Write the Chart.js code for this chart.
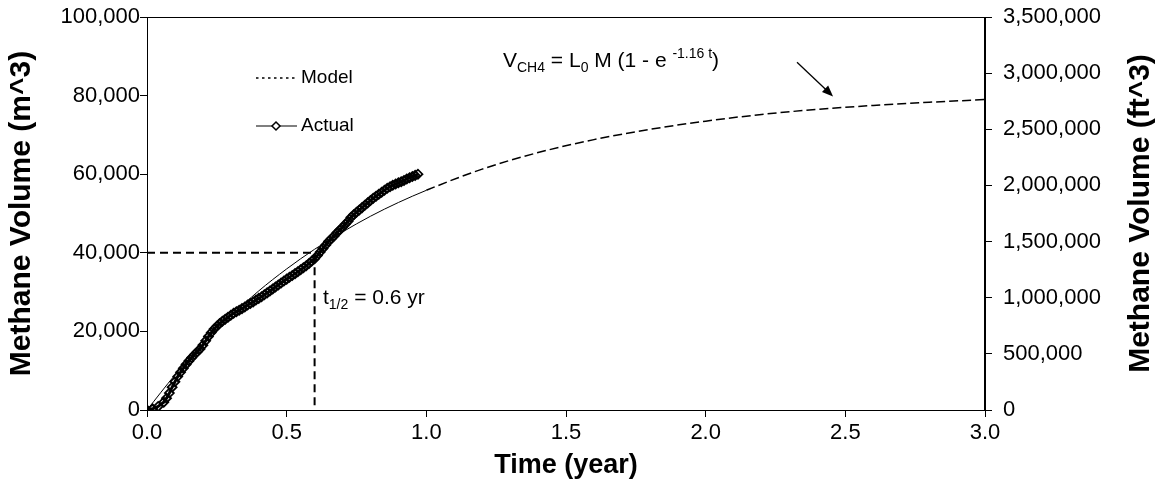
<!DOCTYPE html>
<html>
<head>
<meta charset="utf-8">
<script src="https://cdn.jsdelivr.net/npm/chart.js@4.4.1/dist/chart.umd.min.js"></script>
<style>
  body { margin: 0; background: #fff; }
  #wrap { width: 1161px; height: 495px; }
</style>
</head>
<body>
<div id="wrap"><canvas id="methane-chart" width="1161" height="495"></canvas></div>
<script>
// measured data (time in years, volume in m^3)
const actualTime = [0.00, 0.02, 0.04, 0.06, 0.07, 0.08, 0.09, 0.10, 0.11, 0.12, 0.13, 0.14, 0.15, 0.16, 0.17, 0.18, 0.19,
    0.20, 0.21, 0.22, 0.23, 0.24, 0.25, 0.26, 0.27, 0.28, 0.29, 0.30, 0.31, 0.32, 0.33, 0.34, 0.35, 0.36, 0.37, 0.38, 0.39,
    0.40, 0.41, 0.42, 0.43, 0.44, 0.45, 0.46, 0.47, 0.48, 0.49, 0.50, 0.51, 0.52, 0.53, 0.54, 0.55, 0.56, 0.57, 0.58, 0.59,
    0.60, 0.61, 0.62, 0.63, 0.64, 0.65, 0.66, 0.67, 0.68, 0.69, 0.70, 0.71, 0.72, 0.73, 0.74, 0.75, 0.76, 0.77, 0.78, 0.79,
    0.80, 0.81, 0.82, 0.83, 0.84, 0.85, 0.86, 0.87, 0.88, 0.89, 0.90, 0.91, 0.92, 0.93, 0.94, 0.95, 0.96, 0.97]
const actualVolume = [0, 300, 900, 2000, 3000, 4300, 5800, 7200, 8500, 9600, 10600, 11600, 12500, 13300, 14100, 14800, 15500,
    16500, 17600, 18700, 19700, 20600, 21300, 22000, 22600, 23100, 23600, 24100, 24600, 25000, 25400, 25800, 26200, 26700, 27100, 27500, 28000,
    28400, 28800, 29300, 29800, 30300, 30800, 31300, 31800, 32300, 32800, 33300, 33800, 34200, 34700, 35200, 35700, 36200, 36700, 37300, 37900,
    38500, 39300, 40200, 41100, 42000, 42900, 43600, 44300, 45100, 45800, 46500, 47300, 48000, 49000, 49700, 50300, 50900, 51500, 52100, 52700,
    53300, 53900, 54400, 54900, 55400, 55900, 56400, 56800, 57200, 57500, 57800, 58100, 58400, 58800, 59100, 59400, 59700, 60000]

// model curve
const modelTime = [0, 0.1, 0.2, 0.3, 0.4, 0.5, 0.6, 0.7, 0.8, 0.9, 1.0, 1.2, 1.4, 1.6, 1.8, 2.0, 2.2, 2.4, 2.6, 2.8, 3.0]
const modelVolume = [0, 8900, 16900, 23900, 30300, 35900, 40900, 45300, 49300, 52800, 55900, 61300, 65500, 68800, 71400, 73500, 75200, 76500, 77500, 78300, 79000]

// half-life guide
const halfTime = [0, 0.6, 0.6]
const halfVolume = [40000, 40000, 0]

const FONT = '"Liberation Sans", Arial, sans-serif'

function toPoints(xs, ys) {
    return xs.map((x, i) => ({ x: x, y: ys[i] }))
}

// text with sub/superscripts: parts = [[text, 'n'|'sub'|'sup'], ...]
function drawRichText(ctx, parts, x, y, size) {
    parts.forEach(part => {
        const small = part[1] !== 'n'
        ctx.font = (small ? Math.round(size * 0.65) : size) + 'px ' + FONT
        let dy = 0
        if (part[1] === 'sub') dy = size * 0.25
        if (part[1] === 'sup') dy = -size * 0.45
        ctx.fillText(part[0], x, y + dy)
        x += ctx.measureText(part[0]).width
    })
}

const extras = {
    id: 'extras',
    afterDraw(chart) {
        const ctx = chart.ctx
        const area = chart.chartArea
        const xs = chart.scales.x
        const ys = chart.scales.y
        ctx.save()

        // plot frame
        ctx.strokeStyle = '#000'
        ctx.lineWidth = 1
        ctx.strokeRect(area.left + 0.5, area.top + 0.5, area.right - area.left - 1, area.bottom - area.top)

        ctx.fillStyle = '#000'
        ctx.textBaseline = 'alphabetic'
        ctx.textAlign = 'left'

        // equation
        drawRichText(ctx, [['V', 'n'], ['CH4', 'sub'], [' = L', 'n'], ['0', 'sub'], [' M (1 - e ', 'n'], ['-1.16 t', 'sup'], [')', 'n']],
            area.left + 356, area.top + 50, 21)

        // half-life label
        drawRichText(ctx, [['t', 'n'], ['1/2', 'sub'], [' = 0.6 yr', 'n']], area.left + 176, area.top + 287, 21)

        // arrow to the model curve
        const x0 = xs.getPixelForValue(2.327), y0 = ys.getPixelForValue(88500)
        const x1 = xs.getPixelForValue(2.456), y1 = ys.getPixelForValue(79800)
        const ang = Math.atan2(y1 - y0, x1 - x0)
        ctx.beginPath()
        ctx.moveTo(x0, y0)
        ctx.lineTo(x1 - 6 * Math.cos(ang), y1 - 6 * Math.sin(ang))
        ctx.lineWidth = 1.3
        ctx.stroke()
        ctx.beginPath()
        ctx.moveTo(x1, y1)
        ctx.lineTo(x1 - 11 * Math.cos(ang) + 4.5 * Math.sin(ang), y1 - 11 * Math.sin(ang) - 4.5 * Math.cos(ang))
        ctx.lineTo(x1 - 11 * Math.cos(ang) - 4.5 * Math.sin(ang), y1 - 11 * Math.sin(ang) + 4.5 * Math.cos(ang))
        ctx.closePath()
        ctx.fill()

        // legend
        const lx = area.left + 109
        ctx.lineWidth = 1.5
        ctx.setLineDash([2.5, 3.5])
        ctx.beginPath()
        ctx.moveTo(lx, area.top + 61)
        ctx.lineTo(lx + 41, area.top + 61)
        ctx.stroke()
        ctx.setLineDash([])
        ctx.lineWidth = 1.2
        ctx.beginPath()
        ctx.moveTo(lx, area.top + 109)
        ctx.lineTo(lx + 41, area.top + 109)
        ctx.stroke()
        const mx = lx + 20, my = area.top + 109
        ctx.beginPath()
        ctx.moveTo(mx, my - 4); ctx.lineTo(mx + 4, my); ctx.lineTo(mx, my + 4); ctx.lineTo(mx - 4, my); ctx.closePath()
        ctx.fillStyle = '#fff'
        ctx.fill()
        ctx.lineWidth = 1.5
        ctx.stroke()
        ctx.fillStyle = '#000'
        ctx.font = '19px ' + FONT
        ctx.textBaseline = 'middle'
        ctx.fillText('Model', lx + 45, area.top + 61)
        ctx.fillText('Actual', lx + 45, area.top + 109)

        // right axis title, reading bottom to top like the left one
        ctx.save()
        ctx.translate(1141, (area.top + area.bottom) / 2)
        ctx.rotate(-Math.PI / 2)
        ctx.textAlign = 'center'
        ctx.textBaseline = 'middle'
        ctx.font = 'bold 30px ' + FONT
        ctx.fillText('Methane Volume (ft^3)', 0, 0)
        ctx.restore()

        ctx.restore()
    }
}

const tickStyle = { color: '#000', font: { family: FONT, size: 22 } }
const titleStyle = { family: FONT, size: 30, weight: 'bold' }

function fixWidth(w) {
    return scale => {
        scale.width = w
        scale.paddingTop = 0
        scale.paddingBottom = 0
    }
}

new Chart(document.querySelector('#methane-chart').getContext('2d'), {
    type: 'scatter',
    data: {
        datasets: [
            {
                label: 'Half-life',
                data: toPoints(halfTime, halfVolume),
                showLine: true,
                borderColor: '#000',
                borderWidth: 2,
                borderDash: [8, 5],
                pointRadius: 0
            },
            {
                label: 'Model',
                data: toPoints(modelTime, modelVolume),
                showLine: true,
                borderColor: '#000',
                borderWidth: 1,
                cubicInterpolationMode: 'monotone',
                pointRadius: 0,
                segment: {
                    borderDash: ctx => ctx.p0.parsed.x >= 1 ? [9, 4] : undefined,
                    borderWidth: ctx => ctx.p0.parsed.x >= 1 ? 1.5 : 1
                }
            },
            {
                label: 'Actual',
                data: toPoints(actualTime, actualVolume),
                showLine: true,
                borderColor: '#000',
                borderWidth: 3,
                pointStyle: 'rectRot',
                pointRadius: 4.5,
                pointBorderWidth: 1.8,
                pointBackgroundColor: 'rgba(255,255,255,0)',
                pointBorderColor: '#000'
            }
        ]
    },
    options: {
        responsive: false,
        animation: false,
        layout: { padding: { top: 17, left: 0, right: 0, bottom: 0 } },
        plugins: { legend: { display: false }, tooltip: { enabled: false } },
        scales: {
            x: {
                type: 'linear',
                min: 0, max: 3,
                afterFit: scale => { scale.height = 85; scale.paddingLeft = 0; scale.paddingRight = 0 },
                afterBuildTicks: scale => { scale.ticks = [0, 0.5, 1, 1.5, 2, 2.5, 3].map(v => ({ value: v })) },
                ticks: Object.assign({ padding: 3, callback: v => v.toFixed(1) }, tickStyle),
                grid: { drawOnChartArea: false, drawTicks: true, tickLength: 7, color: '#000' },
                border: { color: '#000', width: 1 },
                title: { display: true, text: 'Time (year)', color: '#000', font: { family: FONT, size: 27, weight: 'bold' }, padding: { top: 0, bottom: 13 } }
            },
            y: {
                position: 'left',
                min: 0, max: 100000,
                afterFit: fixWidth(147),
                ticks: Object.assign({ stepSize: 20000, padding: 0, callback: v => v.toLocaleString('en-US') }, tickStyle),
                grid: { drawOnChartArea: false, drawTicks: true, tickLength: 7, color: '#000' },
                border: { color: '#000', width: 1 },
                title: { display: true, text: 'Methane Volume (m^3)', color: '#000', font: titleStyle, padding: { top: 4, bottom: 0 } }
            },
            y2: {
                position: 'right',
                min: 0, max: 3500000,
                afterFit: fixWidth(176),
                ticks: Object.assign({ stepSize: 500000, padding: 11, callback: v => v.toLocaleString('en-US') }, tickStyle),
                grid: { drawOnChartArea: false, drawTicks: true, tickLength: 7, color: '#000' },
                border: { color: '#000', width: 1 },
                title: { display: false }
            }
        }
    },
    plugins: [extras]
})
</script>
</body>
</html>
